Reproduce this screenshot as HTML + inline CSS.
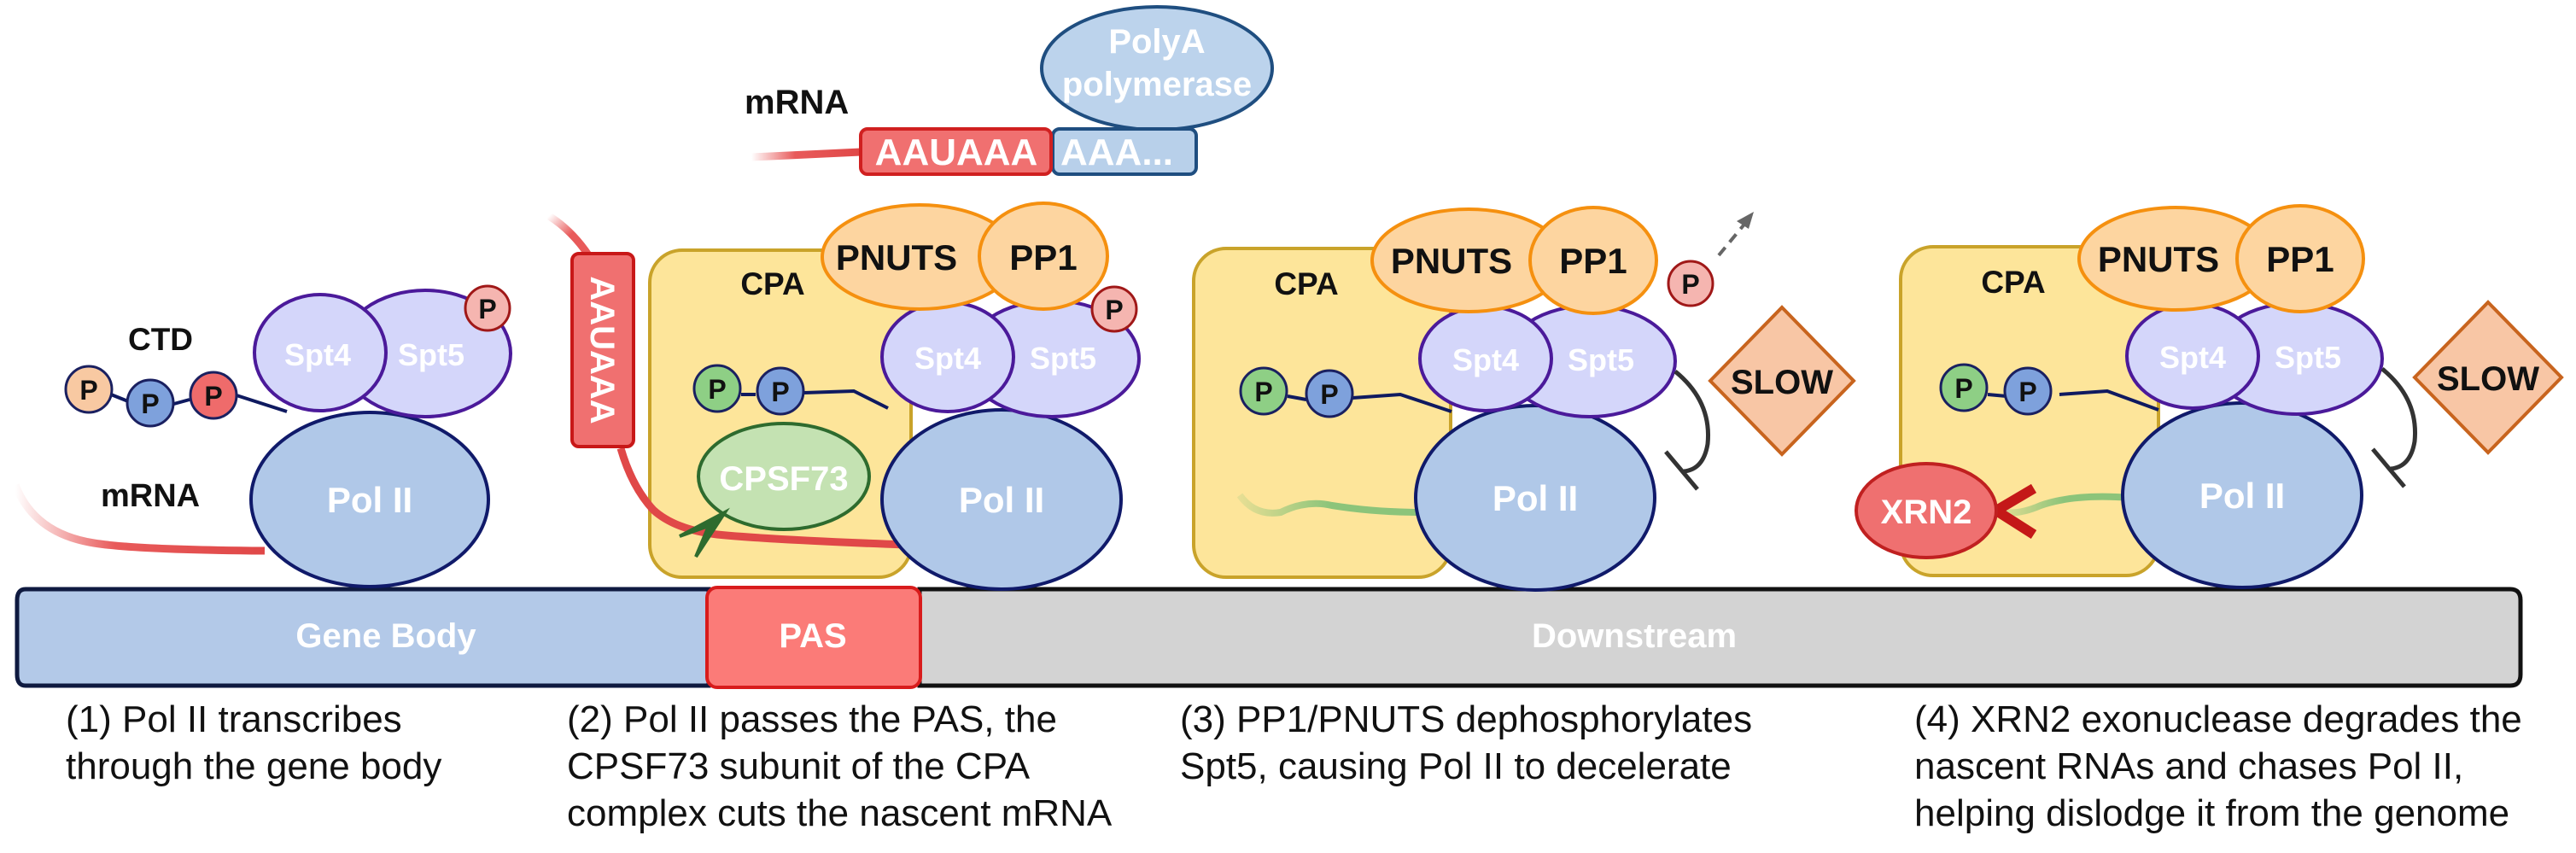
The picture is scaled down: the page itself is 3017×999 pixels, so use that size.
<!DOCTYPE html>
<html><head><meta charset="utf-8"><style>
html,body{margin:0;padding:0;background:#fff;}
svg{display:block;}
text{font-family:"Liberation Sans",Arial,sans-serif;font-weight:bold;}
.w{fill:#fff;}
.k{fill:#111;}
.cap{font-weight:normal;font-size:44px;fill:#111;}
</style></head><body>
<svg width="3017" height="999" viewBox="0 0 3017 999" xmlns="http://www.w3.org/2000/svg">
<defs>
<linearGradient id="rg1" x1="0" y1="0" x2="1" y2="0"><stop offset="0" stop-color="#e85a5a" stop-opacity="0"/><stop offset="0.4" stop-color="#e85a5a"/><stop offset="1" stop-color="#e04848"/></linearGradient>
<linearGradient id="rg2" x1="0" y1="0" x2="1" y2="1"><stop offset="0" stop-color="#e85a5a" stop-opacity="0"/><stop offset="0.5" stop-color="#e85a5a"/></linearGradient>
<linearGradient id="gg" x1="0" y1="0" x2="1" y2="0"><stop offset="0" stop-color="#8cc47a" stop-opacity="0.2"/><stop offset="0.5" stop-color="#8cc47a"/></linearGradient>
</defs>

<text x="872" y="133" font-size="40" class="k">mRNA</text>
<path d="M880 184 L1008 178" stroke="url(#rg1)" stroke-width="9" fill="none"/>
<ellipse cx="1355" cy="80" rx="135" ry="72" fill="#bcd3ec" stroke="#1f4e80" stroke-width="4"/>
<text x="1355" y="62" font-size="40" class="w" text-anchor="middle">PolyA</text>
<text x="1355" y="112" font-size="40" class="w" text-anchor="middle">polymerase</text>
<rect x="1233" y="151" width="168" height="53" rx="8" fill="#b8d0ea" stroke="#1f4e80" stroke-width="4"/>
<text x="1242" y="193" font-size="44" class="w">AAA...</text>
<rect x="1008" y="151" width="223" height="53" rx="8" fill="#f07070" stroke="#d02020" stroke-width="4"/>
<text x="1120" y="193" font-size="44" class="w" text-anchor="middle">AAUAAA</text>

<path d="M30 690 H830 V803 H30 Q20 803 20 790 V703 Q20 690 30 690 Z" fill="#b3c9e8" stroke="#0f1a40" stroke-width="5"/>
<path d="M1077 690 H2940 Q2952 690 2952 703 V790 Q2952 803 2940 803 H1077 Z" fill="#d3d3d3" stroke="#111" stroke-width="5"/>
<rect x="828" y="688" width="250" height="117" rx="12" fill="#fb7b78" stroke="#d81c1c" stroke-width="4"/>
<text x="452" y="758" font-size="40" class="w" text-anchor="middle">Gene Body</text>
<text x="952" y="758" font-size="40" class="w" text-anchor="middle">PAS</text>
<text x="1914" y="758" font-size="40" class="w" text-anchor="middle">Downstream</text>

<text class="cap" x="77" y="857">(1) Pol II transcribes</text>
<text class="cap" x="77" y="912">through the gene body</text>
<text class="cap" x="664" y="857">(2) Pol II passes the PAS, the</text>
<text class="cap" x="664" y="912">CPSF73 subunit of the CPA</text>
<text class="cap" x="664" y="967">complex cuts the nascent mRNA</text>
<text class="cap" x="1382" y="857">(3) PP1/PNUTS dephosphorylates</text>
<text class="cap" x="1382" y="912">Spt5, causing Pol II to decelerate</text>
<text class="cap" x="2242" y="857">(4) XRN2 exonuclease degrades the</text>
<text class="cap" x="2242" y="912">nascent RNAs and chases Pol II,</text>
<text class="cap" x="2242" y="967">helping dislodge it from the genome</text>

<path d="M18 568 Q40 625 110 636 Q160 644 310 645" stroke="url(#rg1)" stroke-width="9" fill="none"/>
<text x="118" y="593" font-size="38" class="k">mRNA</text>
<text x="188" y="410" font-size="37" class="k" text-anchor="middle">CTD</text>
<path d="M130 462 L150 470 M200 474 L222 468 M277 463 L336 482" stroke="#0f1a60" stroke-width="4" fill="none"/>
<ellipse cx="433" cy="585" rx="139" ry="102" fill="#b0c8e8" stroke="#101a6a" stroke-width="4"/>
<text x="433" y="600" font-size="42" class="w" text-anchor="middle">Pol II</text>
<ellipse cx="498" cy="414" rx="100" ry="74" fill="#d4d6fa" stroke="#4b1a9a" stroke-width="4"/>
<ellipse cx="375" cy="413" rx="77" ry="68" fill="#d4d6fa" stroke="#4b1a9a" stroke-width="4"/>
<text x="372" y="428" font-size="36" class="w" text-anchor="middle">Spt4</text>
<text x="505" y="428" font-size="36" class="w" text-anchor="middle">Spt5</text>
<circle cx="104" cy="456" r="27" fill="#f8c9a2" stroke="#1a2060" stroke-width="3"/>
<text x="104" y="468" font-size="32" class="k" text-anchor="middle">P</text>
<circle cx="176" cy="472" r="27" fill="#7ea1dc" stroke="#1a2060" stroke-width="3"/>
<text x="176" y="484" font-size="32" class="k" text-anchor="middle">P</text>
<circle cx="250" cy="463" r="27" fill="#ef6b6b" stroke="#1a2060" stroke-width="3"/>
<text x="250" y="475" font-size="32" class="k" text-anchor="middle">P</text>
<circle cx="571" cy="361" r="26" fill="#f5b5b0" stroke="#a01818" stroke-width="3"/>
<text x="571" y="373" font-size="32" class="k" text-anchor="middle">P</text>

<path d="M643 253 Q670 270 690 300" stroke="url(#rg2)" stroke-width="9" fill="none"/>
<rect x="761" y="293" width="306" height="383" rx="38" fill="#fde59a" stroke="#c9a32a" stroke-width="4"/>
<path d="M727 525 Q740 570 765 597 Q790 620 840 626 Q900 632 1060 638" stroke="#e04848" stroke-width="9" fill="none"/>
<rect x="670" y="297" width="72" height="226" rx="8" fill="#f07070" stroke="#c81818" stroke-width="4"/>
<text transform="translate(692,410) rotate(90)" font-size="40" class="w" text-anchor="middle">AAUAAA</text>
<text x="905" y="345" font-size="37" class="k" text-anchor="middle">CPA</text>
<path d="M868 462 L885 462 M942 460 L1000 458 L1040 478" stroke="#0f1a60" stroke-width="4" fill="none"/>
<circle cx="840" cy="455" r="27" fill="#8ecf85" stroke="#1a2060" stroke-width="3"/>
<text x="840" y="467" font-size="32" class="k" text-anchor="middle">P</text>
<circle cx="914" cy="458" r="27" fill="#7ea1dc" stroke="#1a2060" stroke-width="3"/>
<text x="914" y="470" font-size="32" class="k" text-anchor="middle">P</text>
<ellipse cx="918" cy="558" rx="100" ry="62" fill="#c4e2b2" stroke="#2e6b2e" stroke-width="4"/>
<text x="918" y="574" font-size="40" class="w" text-anchor="middle">CPSF73</text>
<path d="M849 600 L796 628 L830 616 L815 652 Z" fill="#2e6b2e" stroke="#2e6b2e" stroke-width="4"/>
<ellipse cx="1173" cy="585" rx="140" ry="105" fill="#b0c8e8" stroke="#101a6a" stroke-width="4"/>
<text x="1173" y="600" font-size="42" class="w" text-anchor="middle">Pol II</text>
<ellipse cx="1232" cy="420" rx="102" ry="68" fill="#d4d6fa" stroke="#4b1a9a" stroke-width="4"/>
<ellipse cx="1110" cy="418" rx="77" ry="64" fill="#d4d6fa" stroke="#4b1a9a" stroke-width="4"/>
<text x="1110" y="432" font-size="36" class="w" text-anchor="middle">Spt4</text>
<text x="1245" y="432" font-size="36" class="w" text-anchor="middle">Spt5</text>
<ellipse cx="1077" cy="301" rx="114" ry="61" fill="#fdd5a0" stroke="#f5900f" stroke-width="4"/>
<ellipse cx="1222" cy="300" rx="75" ry="62" fill="#fdd5a0" stroke="#f5900f" stroke-width="4"/>
<text x="1050" y="316" font-size="42" class="k" text-anchor="middle">PNUTS</text>
<text x="1222" y="316" font-size="42" class="k" text-anchor="middle">PP1</text>
<circle cx="1305" cy="362" r="26" fill="#f5b5b0" stroke="#a01818" stroke-width="3"/>
<text x="1305" y="374" font-size="32" class="k" text-anchor="middle">P</text>

<rect x="1398" y="291" width="301" height="385" rx="38" fill="#fde59a" stroke="#c9a32a" stroke-width="4"/>
<text x="1530" y="345" font-size="37" class="k" text-anchor="middle">CPA</text>
<path d="M1452 580 Q1470 605 1500 600 Q1530 585 1560 592 Q1610 600 1665 600" stroke="url(#gg)" stroke-width="8" fill="none"/>
<path d="M1508 464 L1530 468 M1584 466 L1640 462 L1700 482" stroke="#0f1a60" stroke-width="4" fill="none"/>
<circle cx="1480" cy="458" r="27" fill="#8ecf85" stroke="#1a2060" stroke-width="3"/>
<text x="1480" y="470" font-size="32" class="k" text-anchor="middle">P</text>
<circle cx="1557" cy="461" r="27" fill="#7ea1dc" stroke="#1a2060" stroke-width="3"/>
<text x="1557" y="473" font-size="32" class="k" text-anchor="middle">P</text>
<ellipse cx="1798" cy="583" rx="140" ry="108" fill="#b0c8e8" stroke="#101a6a" stroke-width="4"/>
<text x="1798" y="598" font-size="42" class="w" text-anchor="middle">Pol II</text>
<ellipse cx="1862" cy="423" rx="100" ry="65" fill="#d4d6fa" stroke="#4b1a9a" stroke-width="4"/>
<ellipse cx="1740" cy="420" rx="77" ry="61" fill="#d4d6fa" stroke="#4b1a9a" stroke-width="4"/>
<text x="1740" y="434" font-size="36" class="w" text-anchor="middle">Spt4</text>
<text x="1875" y="434" font-size="36" class="w" text-anchor="middle">Spt5</text>
<ellipse cx="1720" cy="305" rx="113" ry="60" fill="#fdd5a0" stroke="#f5900f" stroke-width="4"/>
<ellipse cx="1866" cy="305" rx="74" ry="62" fill="#fdd5a0" stroke="#f5900f" stroke-width="4"/>
<text x="1700" y="320" font-size="42" class="k" text-anchor="middle">PNUTS</text>
<text x="1866" y="320" font-size="42" class="k" text-anchor="middle">PP1</text>
<circle cx="1980" cy="332" r="26" fill="#f5b5b0" stroke="#a01818" stroke-width="3"/>
<text x="1980" y="344" font-size="32" class="k" text-anchor="middle">P</text>
<path d="M2013 299 L2046 259" stroke="#666" stroke-width="4" stroke-dasharray="12,8" fill="none"/>
<path d="M2054 248 L2034 259 L2048 268 Z" fill="#666"/>
<path d="M1962 435 Q2005 470 2000 520 Q1995 550 1972 552" stroke="#333" stroke-width="5" fill="none"/>
<path d="M1951 529 L1988 573" stroke="#333" stroke-width="5"/>
<path d="M2087 360 L2171 446 L2087 532 L2003 446 Z" fill="#f8c6a5" stroke="#c8641e" stroke-width="4"/>
<text x="2087" y="461" font-size="40" class="k" text-anchor="middle">SLOW</text>

<rect x="2226" y="289" width="302" height="385" rx="38" fill="#fde59a" stroke="#c9a32a" stroke-width="4"/>
<text x="2358" y="343" font-size="37" class="k" text-anchor="middle">CPA</text>
<path d="M2340 598 Q2360 605 2390 592 Q2430 578 2495 583" stroke="url(#gg)" stroke-width="8" fill="none"/>
<path d="M2328 462 L2350 464 M2412 462 L2468 458 L2528 480" stroke="#0f1a60" stroke-width="4" fill="none"/>
<circle cx="2300" cy="454" r="27" fill="#8ecf85" stroke="#1a2060" stroke-width="3"/>
<text x="2300" y="466" font-size="32" class="k" text-anchor="middle">P</text>
<circle cx="2375" cy="458" r="27" fill="#7ea1dc" stroke="#1a2060" stroke-width="3"/>
<text x="2375" y="470" font-size="32" class="k" text-anchor="middle">P</text>
<path d="M2338 598 L2382 572 M2338 598 L2382 626" stroke="#c41818" stroke-width="12" fill="none"/>
<ellipse cx="2256" cy="598" rx="82" ry="55" fill="#ef7070" stroke="#c02020" stroke-width="4"/>
<text x="2256" y="613" font-size="40" class="w" text-anchor="middle">XRN2</text>
<ellipse cx="2626" cy="580" rx="140" ry="108" fill="#b0c8e8" stroke="#101a6a" stroke-width="4"/>
<text x="2626" y="595" font-size="42" class="w" text-anchor="middle">Pol II</text>
<ellipse cx="2690" cy="420" rx="100" ry="65" fill="#d4d6fa" stroke="#4b1a9a" stroke-width="4"/>
<ellipse cx="2568" cy="417" rx="77" ry="61" fill="#d4d6fa" stroke="#4b1a9a" stroke-width="4"/>
<text x="2568" y="431" font-size="36" class="w" text-anchor="middle">Spt4</text>
<text x="2703" y="431" font-size="36" class="w" text-anchor="middle">Spt5</text>
<ellipse cx="2548" cy="303" rx="113" ry="60" fill="#fdd5a0" stroke="#f5900f" stroke-width="4"/>
<ellipse cx="2694" cy="303" rx="74" ry="62" fill="#fdd5a0" stroke="#f5900f" stroke-width="4"/>
<text x="2528" y="318" font-size="42" class="k" text-anchor="middle">PNUTS</text>
<text x="2694" y="318" font-size="42" class="k" text-anchor="middle">PP1</text>
<path d="M2790 432 Q2833 467 2828 517 Q2823 547 2800 549" stroke="#333" stroke-width="5" fill="none"/>
<path d="M2779 526 L2816 570" stroke="#333" stroke-width="5"/>
<path d="M2914 354 L3000 442 L2914 530 L2828 442 Z" fill="#f8c6a5" stroke="#c8641e" stroke-width="4"/>
<text x="2914" y="457" font-size="40" class="k" text-anchor="middle">SLOW</text>
</svg>
</body></html>
